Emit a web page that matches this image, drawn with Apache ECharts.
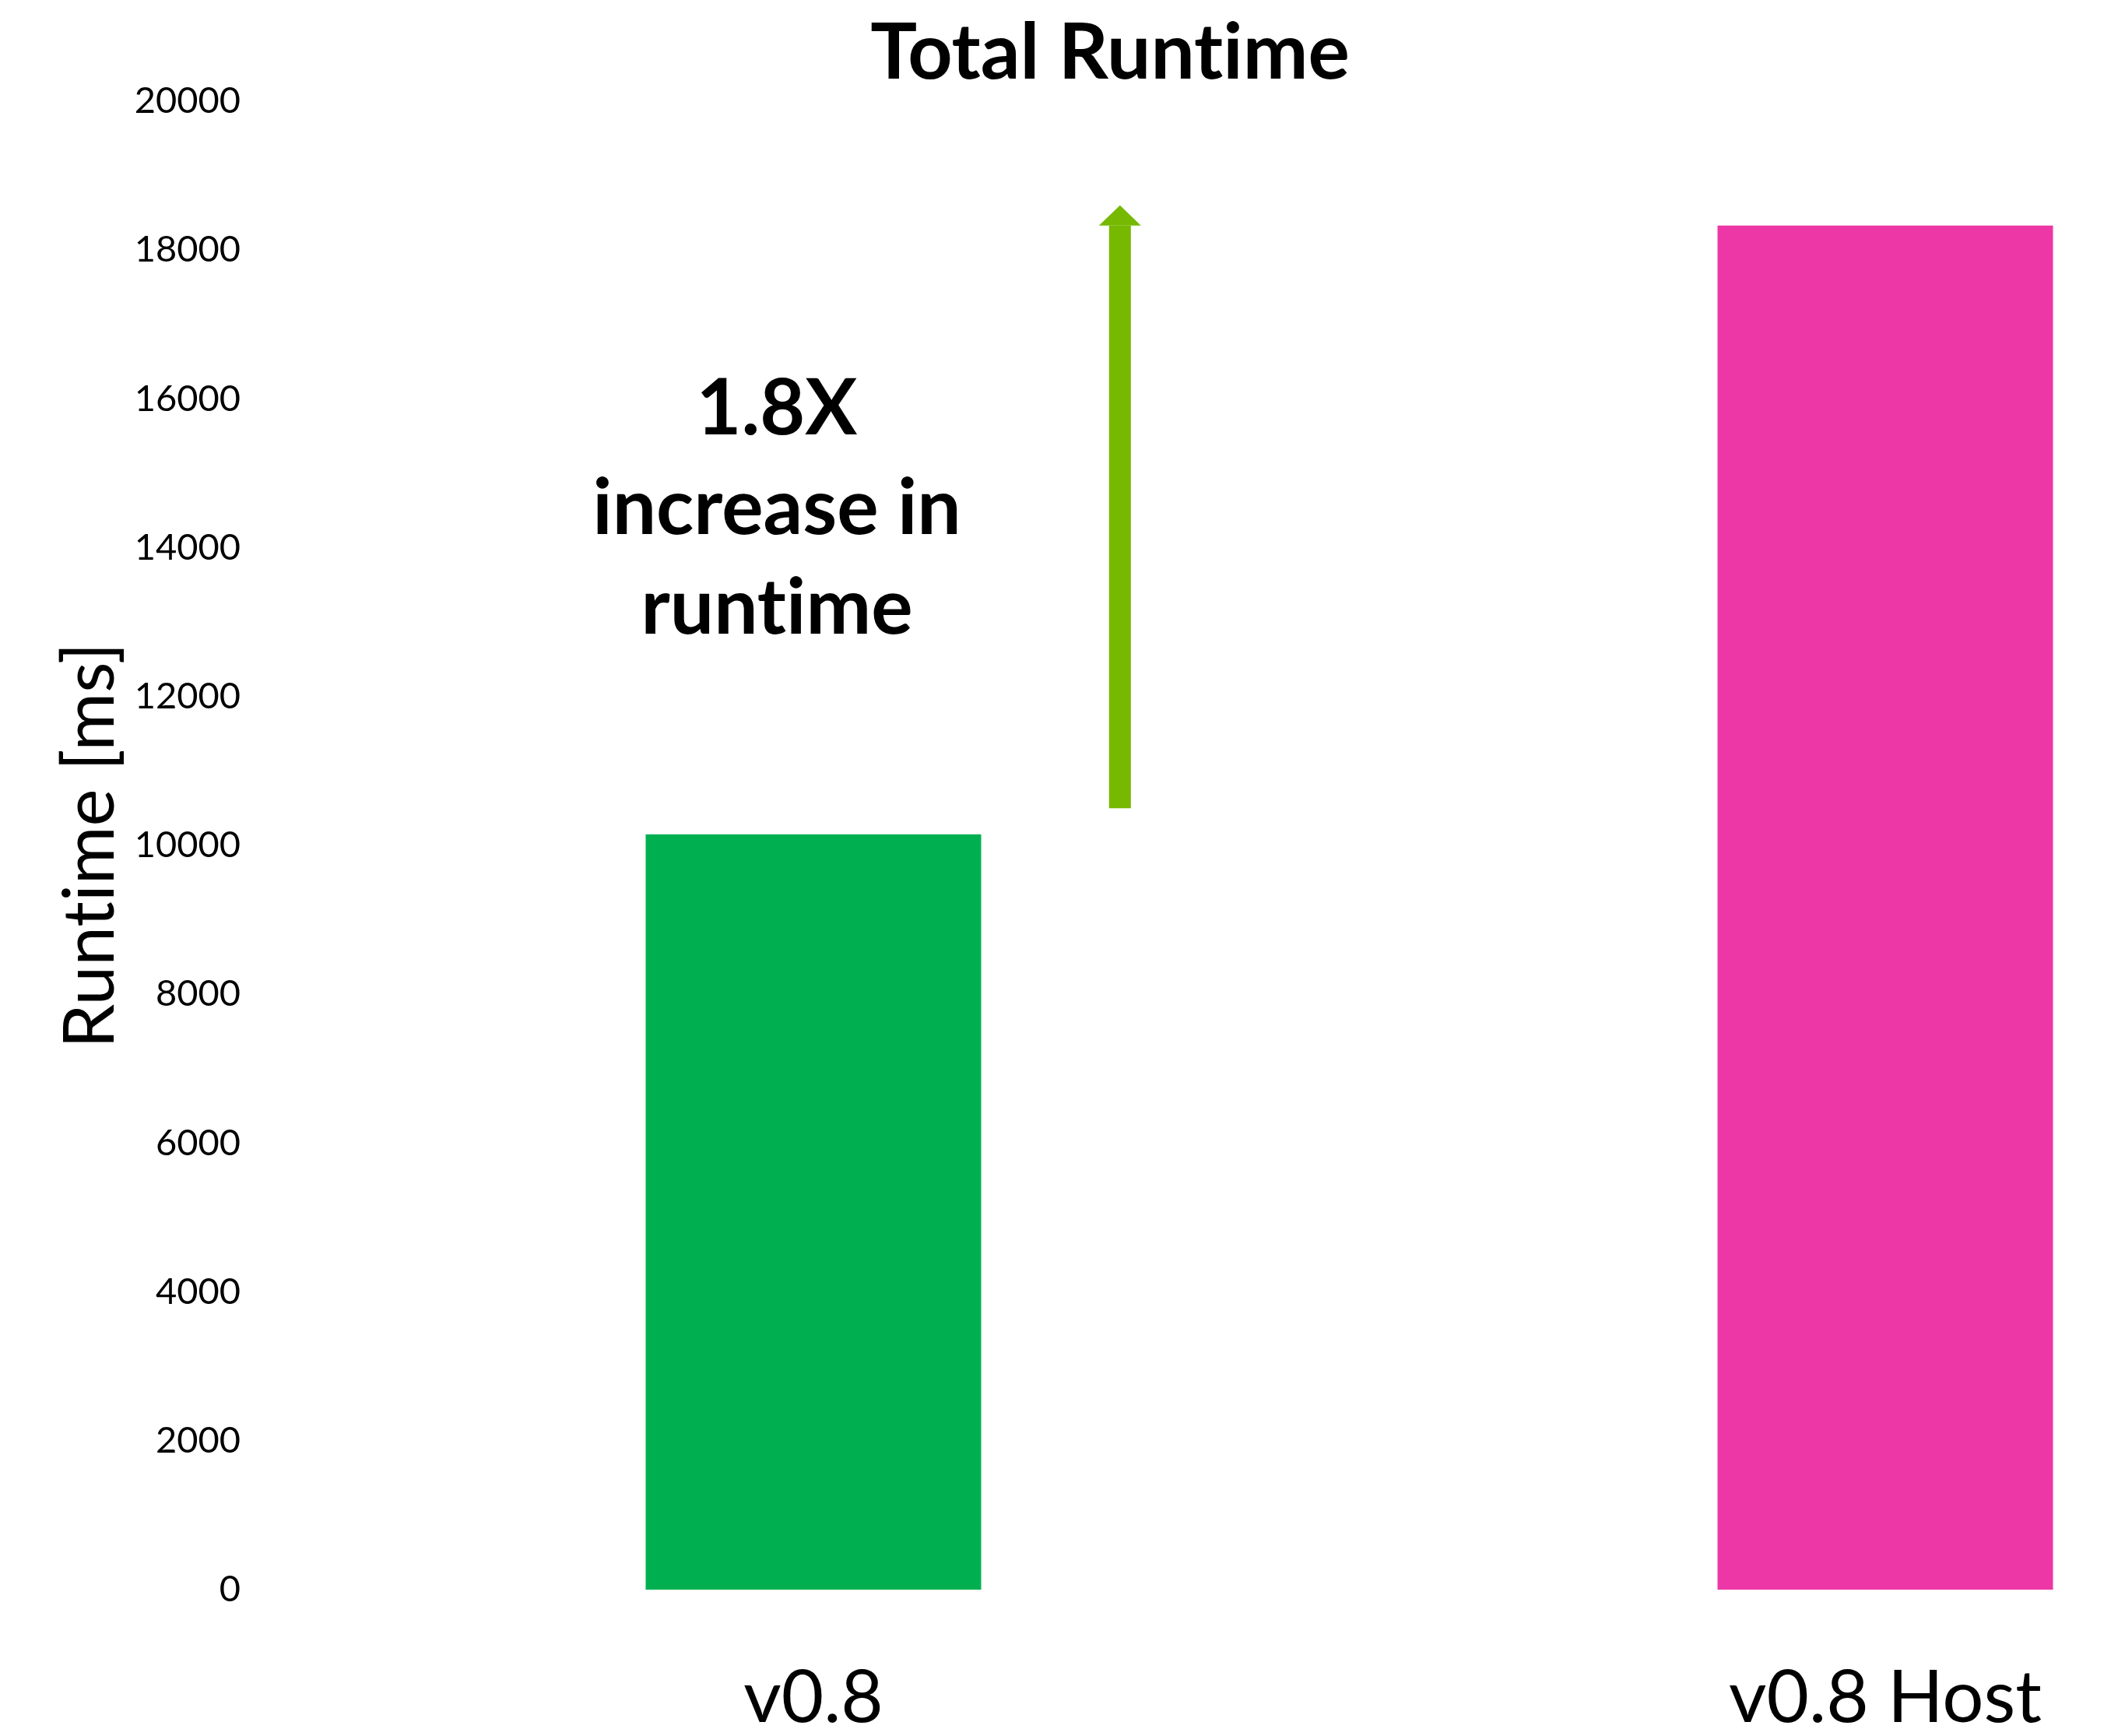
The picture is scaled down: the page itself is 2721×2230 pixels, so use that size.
<!DOCTYPE html>
<html>
<head>
<meta charset="utf-8">
<title>Total Runtime</title>
<script src="https://cdn.jsdelivr.net/npm/echarts@6/dist/echarts.min.js"></script>
<style>
  html, body { margin: 0; padding: 0; background: #ffffff; }
  #chart { width: 2721px; height: 2230px; }
</style>
</head>
<body>
<div id="chart"></div>
<script>
// Runtime per build, in milliseconds
const categories = ['v0.8', 'v0.8 Host'];
const runtimeMs = [10150, 18330];
const barColors = ['#00B050', '#EE37A6'];

// Value-axis ticks
const yTicks = [0, 2000, 4000, 6000, 8000, 10000, 12000, 14000, 16000, 18000, 20000];

// Increase arrow: start and end values on the runtime axis
const arrowRange = [10500, 18600];
const annotationLines = ['1.8X', 'increase in', 'runtime'];

const FONT = 'Lato, "Open Sans", "Liberation Sans", sans-serif';
// horizontal place of the arrow, as a fraction of the gap between the two bars
const ARROW_POS = 0.286;
// zero-width non-joiner keeps Lato from fusing "t" and "i" into a ligature
const noLig = s => s.replace(/ti/g, 't\u200Ci');

const chart = echarts.init(document.getElementById('chart'), null, { renderer: 'canvas' });

chart.setOption({
  backgroundColor: '#ffffff',
  animation: false,
  title: {
    text: noLig('Total Runtime'),
    left: 1421,
    top: 14,
    textAlign: 'center',
    textStyle: { fontFamily: FONT, fontWeight: 'bold', fontSize: 100, color: '#000000' }
  },
  grid: { left: 1045, right: 299, top: 130, bottom: 188, containLabel: false },
  xAxis: {
    type: 'category',
    data: categories,
    boundaryGap: false,
    axisLine: { show: false },
    axisTick: { show: false },
    splitLine: { show: false },
    axisLabel: {
      margin: 93,
      fontFamily: FONT,
      fontSize: 94,
      color: '#000000'
    }
  },
  yAxis: {
    type: 'value',
    min: yTicks[0],
    max: yTicks[yTicks.length - 1],
    interval: yTicks[1] - yTicks[0],
    name: noLig('Runtime [ms]'),
    nameLocation: 'middle',
    nameGap: 878,
    nameTextStyle: { fontFamily: FONT, fontSize: 91, color: '#000000' },
    axisLine: { show: false },
    axisTick: { show: false },
    splitLine: { show: false },
    axisLabel: {
      margin: 736,
      fontFamily: FONT,
      fontSize: 47,
      color: '#000000',
      formatter: v => String(v)
    }
  },
  series: [
    {
      type: 'bar',
      barWidth: 431,
      data: runtimeMs.map((v, i) => ({ value: v, itemStyle: { color: barColors[i] } })),
      silent: true
    },
    {
      type: 'custom',
      silent: true,
      data: [[0, arrowRange[0], arrowRange[1]]],
      encode: { x: 0, y: [1, 2] },
      renderItem: function (params, api) {
        const base = api.coord([api.value(0), api.value(1)]);
        const tip = api.coord([api.value(0), api.value(2)]);
        const band = api.size([1, 0])[0];
        const x = base[0] + band * ARROW_POS;
        const shaftW = 28, headW = 54, headH = 26;
        const color = '#76B900';
        return {
          type: 'group',
          children: [
            {
              type: 'rect',
              shape: { x: x - shaftW / 2, y: tip[1] + headH, width: shaftW, height: base[1] - tip[1] - headH },
              style: { fill: color }
            },
            {
              type: 'polygon',
              shape: { points: [[x - headW / 2, tip[1] + headH], [x, tip[1]], [x + headW / 2, tip[1] + headH]] },
              style: { fill: color }
            }
          ]
        };
      }
    }
  ],
  graphic: [
    {
      type: 'text',
      x: 998,
      y: 462,
      style: {
        text: noLig(annotationLines.join('\n')),
        textAlign: 'center',
        textVerticalAlign: 'top',
        fontFamily: FONT,
        fontWeight: 'bold',
        fontSize: 100,
        lineHeight: 128,
        fill: '#000000'
      }
    }
  ]
});
</script>
</body>
</html>
